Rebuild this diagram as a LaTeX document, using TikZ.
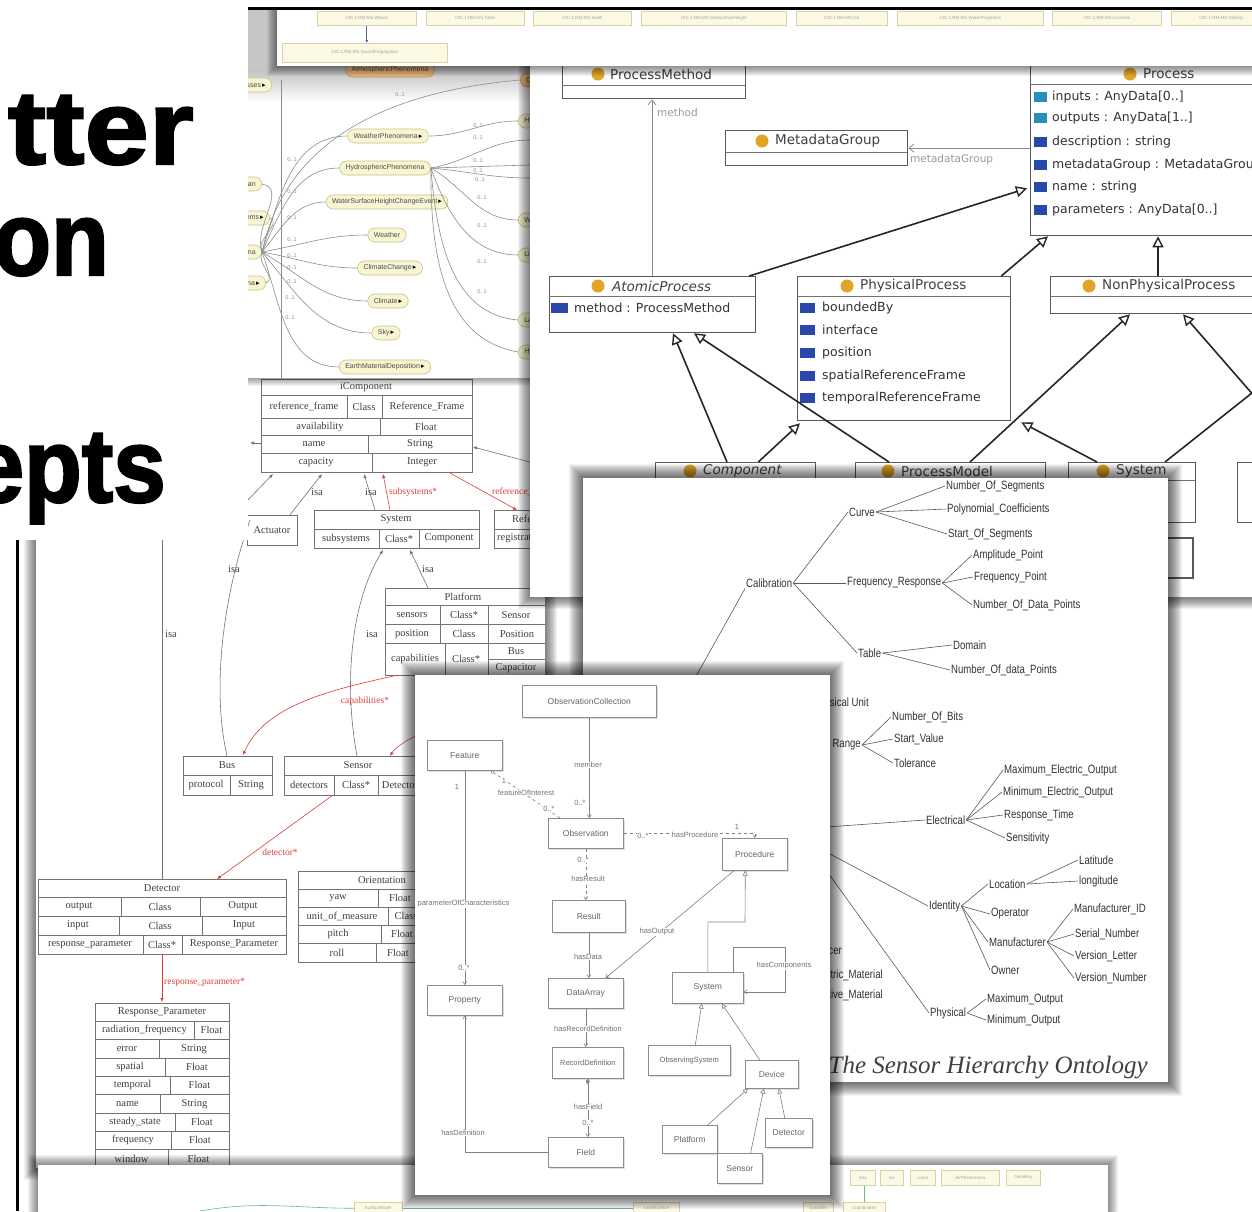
\documentclass[tikz,border=0pt]{standalone}
\usepackage{fontspec}
\setmainfont{Liberation Serif}
\setsansfont{Liberation Sans}
\newfontfamily\titlefont{Liberation Sans}[FakeStretch=1.1,BoldFeatures={FakeBold=2}]
\newfontfamily\titlefontb{Liberation Sans}[FakeStretch=0.9,BoldFeatures={FakeBold=2}]
\newfontfamily\narrowfont{Liberation Sans}[FakeStretch=0.8]
\newfontfamily\umlfont{DejaVu Sans}
\usetikzlibrary{arrows.meta,calc,shapes.geometric,shadows}
\definecolor{gold}{HTML}{E0A526}
\definecolor{teal2}{HTML}{2A8FB8}
\definecolor{blue2}{HTML}{2A48A8}
\definecolor{ellfill}{HTML}{F8F5D2}
\definecolor{elldraw}{HTML}{C8C08A}
\definecolor{orangefill}{HTML}{E6B47A}
\definecolor{boxfill}{HTML}{FBF8E4}
\definecolor{boxdraw}{HTML}{D9D2A4}
\definecolor{redl}{HTML}{E23A3A}
\definecolor{greenl}{HTML}{6DB88A}
\newcommand\pshadow[5]{\foreach \k in {1,...,#5}{\fill[black,opacity=0.05] (#1-\k,#2-\k) rectangle (#3+\k,#4+\k);}}
\newcommand\tri{\,{\color{black}\umlfont\fontsize{7}{7}\selectfont ▸}}
\begin{document}
\begin{tikzpicture}[x=1pt,y=-1pt,
  tl/.style={draw=black!55,line width=0.6pt},
  tt/.style={font=\fontsize{10.5}{11}\selectfont,text=black!75,inner sep=0pt},
  ttr/.style={font=\fontsize{9.5}{10}\selectfont,text=redl,inner sep=0pt},
  cl/.style={draw=black!55,line width=0.6pt},
  carr/.style={cl,-{Latex[length=4pt,width=3.5pt]}},
  rarr/.style={draw=redl,line width=0.6pt,-{Latex[length=4pt,width=3.5pt]}},
  dbox/.style={draw=black!65,line width=1.3pt,fill=white,inner sep=0pt,anchor=north west},
  dsep/.style={draw=black!55,line width=1pt},
  dhead/.style={font=\umlfont\fontsize{13.5}{14}\selectfont,text=black!75,anchor=west,inner sep=0pt},
  dattr/.style={font=\umlfont\fontsize{12.5}{13}\selectfont,text=black!80,anchor=west,inner sep=0pt},
  dgen/.style={draw=black!85,line width=1.6pt,-{Triangle[open,length=11pt,width=11pt,line width=1.4pt]}},
  dassoc/.style={draw=black!45,line width=0.8pt,-{Straight Barb[length=5pt,width=8pt]}},
  dlab/.style={font=\umlfont\fontsize{10.5}{11}\selectfont,text=black!40,anchor=west,inner sep=0pt},
  etx/.style={font=\narrowfont\fontsize{12}{13}\selectfont,text=black!80,inner sep=1pt,anchor=west},
  el/.style={draw=black!65,line width=0.6pt},
  ell/.style={rectangle,rounded corners=7pt,draw=elldraw,fill=ellfill,line width=0.6pt,inner xsep=6pt,inner ysep=0pt,minimum height=14pt,font=\sffamily\fontsize{7}{8}\selectfont,text=black!70},
  bl/.style={draw=black!45,line width=0.6pt},
  bt/.style={font=\sffamily\fontsize{5.5}{6}\selectfont,text=black!45,inner sep=0pt},
  fbox/.style={draw=black!45,line width=0.6pt,fill=white,anchor=north west,inner sep=0pt,font=\sffamily\fontsize{8.5}{9}\selectfont,text=black!60,drop shadow={opacity=0.25,shadow xshift=1.5pt,shadow yshift=-1.5pt}},
  fl/.style={draw=black!50,line width=0.6pt},
  fa/.style={fl,-{Straight Barb[length=3pt,width=4pt]}},
  fg/.style={fl,-{Triangle[open,length=5pt,width=5pt]}},
  ft/.style={font=\sffamily\fontsize{7.5}{8}\selectfont,text=black!55,inner sep=0.5pt,fill=white},
  ybn/.style={draw=boxdraw,fill=boxfill,line width=0.5pt,anchor=north west,inner sep=0pt,font=\sffamily\fontsize{4.5}{5}\selectfont,text=black!35},
  title/.style={font=\titlefont\bfseries\fontsize{105}{105}\selectfont,anchor=base east,inner sep=0pt,text=black},
  titleb/.style={font=\titlefontb\bfseries\fontsize{105}{105}\selectfont,anchor=base east,inner sep=0pt,text=black},
]
\useasboundingbox (0,0) rectangle (1252,1211);
\fill[white] (0,0) rectangle (1252,1211);

% left vertical bar
\draw[black,line width=3pt] (17,540) -- (17,1211);

% ================= Panel C : UML class tables =================
\pshadow{36}{375}{545}{1168}{12}
\fill[white] (36,375) rectangle (545,1168);
\begin{scope}
\clip (36,375) rectangle (545,1168);
% iComponent
\draw[tl] (261,379) rectangle (472,472);
\draw[tl] (261,395)--(472,395) (261,418)--(472,418) (261,435)--(472,435) (261,453)--(472,453);
\draw[tl] (347,395)--(347,418) (382,395)--(382,418) (380,418)--(380,435) (368,435)--(368,453) (372,453)--(372,472);
\node[tt] (ic) at (366,387) {iComponent};
\node[tt] (ic1) at (304,406.5) {reference\_frame};
\node[tt] (ic2) at (364,406.5) {Class};
\node[tt] (ic3) at (427,406.5) {Reference\_Frame};
\node[tt] (ic4) at (320,426.5) {availability};
\node[tt] (ic5) at (426,426.5) {Float};
\node[tt] (ic6) at (314,444) {name};
\node[tt] (ic7) at (420,444) {String};
\node[tt] (ic8) at (316,462.5) {capacity};
\node[tt] (ic9) at (422,462.5) {Integer};
% Actuator
\node[tt,draw=black!55,line width=0.6pt,minimum width=50pt,minimum height=30pt] (act) at (272,530) {Actuator};
% System
\draw[tl] (314,510) rectangle (479,548) (314,529)--(479,529) (379,529)--(379,548) (419,529)--(419,548);
\node[tt] (sy) at (396,519.5) {System};
\node[tt] (sy1) at (346,538.5) {subsystems};
\node[tt] (sy2) at (399,538.5) {Class*};
\node[tt] (sy3) at (449,538.5) {Component};
% Reference frame (cut)
\draw[tl] (494,510) rectangle (580,548) (494,529)--(580,529);
\node[tt,anchor=west] (rf) at (512,519.5) {Reference\_Frame};
\node[tt,anchor=west] (rf1) at (497,538.5) {registration};
% Platform
\draw[tl] (385,588) rectangle (560,675) (385,605)--(560,605) (385,624)--(560,624) (385,643)--(560,643) (440,605)--(440,643) (488,605)--(488,675) (445,643)--(445,675) (488,659)--(560,659);
\node[tt] (pl) at (463,596.5) {Platform};
\node[tt] (pl1) at (412,615) {sensors};
\node[tt] (pl2) at (464,615) {Class*};
\node[tt] (pl3) at (516,615) {Sensor};
\node[tt] (pl4) at (412,634) {position};
\node[tt] (pl5) at (464,634) {Class};
\node[tt] (pl6) at (517,634) {Position};
\node[tt] (pl7) at (415,659) {capabilities};
\node[tt] (pl8) at (466,659) {Class*};
\node[tt] (pl9) at (516,651) {Bus};
\node[tt] (pl10) at (516,668) {Capacitor};
% Bus
\draw[tl] (183,756) rectangle (272,795) (183,775)--(272,775) (230,775)--(230,795);
\node[tt] (bu) at (227,765.5) {Bus};
\node[tt] (bu1) at (206,785) {protocol};
\node[tt] (bu2) at (251,785) {String};
% Sensor
\draw[tl] (284,756) rectangle (440,795) (284,775)--(440,775) (334,775)--(334,795) (378,775)--(378,795);
\node[tt] (se) at (358,765.5) {Sensor};
\node[tt] (se1) at (309,785) {detectors};
\node[tt] (se2) at (356,785) {Class*};
\node[tt] (se3) at (400,785) {Detector};
% Detector
\draw[tl] (38,879) rectangle (286,954) (38,897)--(286,897) (38,916)--(286,916) (38,935)--(286,935)
  (121,897)--(121,916) (200,897)--(200,916) (119,916)--(119,935) (202,916)--(202,935) (143,935)--(143,954) (182,935)--(182,954);
\node[tt] (de) at (162,888) {Detector};
\node[tt] (de1) at (79,906.5) {output};
\node[tt] (de2) at (160,906.5) {Class};
\node[tt] (de3) at (243,906.5) {Output};
\node[tt] (de4) at (78,925.5) {input};
\node[tt] (de5) at (160,925.5) {Class};
\node[tt] (de6) at (244,925.5) {Input};
\node[tt] (de7) at (90,944.5) {response\_parameter};
\node[tt] (de8) at (162,944.5) {Class*};
\node[tt] (de9) at (234,944.5) {Response\_Parameter};
% Orientation
\draw[tl] (298,871) rectangle (466,962) (298,889)--(466,889) (298,907)--(466,907) (298,925)--(466,925) (298,943)--(466,943)
  (378,889)--(378,907) (388,907)--(388,925) (381,925)--(381,943) (376,943)--(376,962);
\node[tt] (or) at (382,880) {Orientation};
\node[tt] (or1) at (338,898) {yaw};
\node[tt] (or2) at (342,916) {unit\_of\_measure};
\node[tt] (or3) at (338,934) {pitch};
\node[tt] (or4) at (337,952.5) {roll};
\node[tt] (or5) at (400,898) {Float};
\node[tt] (or6) at (406,916) {Class};
\node[tt] (or7) at (402,934) {Float};
\node[tt] (or8) at (398,952.5) {Float};
% Response_Parameter
\draw[tl] (95,1003) rectangle (229,1168);
\foreach \yy in {1021,1039.5,1058,1076,1094.5,1113,1131,1149.5} \draw[tl] (95,\yy)--(229,\yy);
\draw[tl] (194,1021)--(194,1039.5) (159,1039.5)--(159,1058) (165,1058)--(165,1076) (170,1076)--(170,1094.5)
  (160,1094.5)--(160,1113) (175,1113)--(175,1131) (171,1131)--(171,1149.5) (168,1149.5)--(168,1168);
\node[tt] (rp) at (162,1012) {Response\_Parameter};
\node[tt] (rp1) at (144.5,1030) {radiation\_frequency};
\node[tt] (rp2) at (211.5,1030) {Float};
\node[tt] (rp3) at (127,1049) {error};
\node[tt] (rp4) at (194,1049) {String};
\node[tt] (rp5) at (130,1067) {spatial};
\node[tt] (rp6) at (197,1067) {Float};
\node[tt] (rp7) at (132.5,1085) {temporal};
\node[tt] (rp8) at (199.5,1085) {Float};
\node[tt] (rp9) at (127.5,1104) {name};
\node[tt] (rp10) at (194.5,1104) {String};
\node[tt] (rp11) at (135,1122) {steady\_state};
\node[tt] (rp12) at (202,1122) {Float};
\node[tt] (rp13) at (133,1140) {frequency};
\node[tt] (rp14) at (200,1140) {Float};
\node[tt] (rp15) at (131.5,1159) {window};
\node[tt] (rp16) at (198.5,1159) {Float};
% connectors
\draw[carr] (245,503) -- (273,474);
\draw[carr] ($(act.north)+(18,0)$) -- (322,474);
\node[tt] (isa1) at (317,492) {isa};
\draw[carr] (375,510) -- (364,474);
\node[tt] (isa2) at (371,492) {isa};
\draw[rarr] (390,510) -- (383,474);
\node[ttr,anchor=west] (subl) at (389,492) {subsystems*};
\draw[rarr] (450,473) -- (517,510);
\node[ttr,anchor=west] (rfl) at (492,492) {reference\_frame*};
\draw[carr] (545,466) -- (473,447);
\draw[carr] (261,443) -- (250,443);
\draw[cl] (227,756) .. controls (212,690) and (222,600) .. (250,520);
\node[tt] (isa3) at (234,569) {isa};
\draw[cl] (162,540) -- (162,879);
\node[tt,anchor=west] (isa4) at (165,634) {isa};
\draw[carr] (357,756) .. controls (343,680) and (352,600) .. (383,550);
\node[tt] (isa5) at (372,634) {isa};
\draw[carr] (428,588) -- (410,550);
\node[tt] (isa6) at (428,569) {isa};
\draw[rarr] (398,675) .. controls (330,690) and (265,705) .. (243,755);
\node[ttr] (capl) at (365,701) {capabilities*};
\draw[rarr] (425,732) .. controls (405,740) and (395,748) .. (390,756);
\draw[rarr] (333,795) -- (217,879);
\node[ttr] (detl) at (280,852) {detector*};
\draw[rarr] (162,954) -- (162,1002);
\node[ttr,anchor=west] (rpl) at (164,982) {response\_parameter*};
\end{scope}

% ================= Panel B : ontology graph =================
\pshadow{248}{65}{530}{378}{8}
\fill[white] (248,65) rectangle (530,378);
\begin{scope}
\clip (248,65) rectangle (530,378);
\shade[top color=gray!55,bottom color=white] (248,65) rectangle (530,102);
\draw[bl] (281,80) -- (281,378);
\node[ell,fill=orangefill,draw=orangefill!80!black] (o1) at (390,70) {AtmosphericPhenomena};
\node[ell,fill=orangefill,draw=orangefill!80!black,anchor=west] (o2) at (520,80) {Ocean};
\node[ell,anchor=east] (l1) at (272,85) {Processes\tri};
\node[ell,anchor=east] (l2) at (262,184) {Ocean};
\node[ell,anchor=east] (l3) at (270,218) {Ecosystems\tri};
\node[ell,anchor=east] (l4) at (262,252) {Phenomena};
\node[ell,anchor=east] (l5) at (266,283) {NaturalPhenomena\tri};
\node[ell] (e1) at (388,136) {WeatherPhenomena\tri};
\node[ell] (e2) at (385,168) {HydrosphericPhenomena};
\node[ell] (e3) at (387,202) {WaterSurfaceHeightChangeEvent\tri};
\node[ell] (e4) at (387,235) {Weather};
\node[ell] (e5) at (390,268) {ClimateChange\tri};
\node[ell] (e6) at (388,301) {Climate\tri};
\node[ell] (e7) at (386,333) {Sky\tri};
\node[ell] (e8) at (385,367) {EarthMaterialDeposition\tri};
\node[ell,anchor=west] (r1) at (518,121) {Hydrosphere};
\node[ell,anchor=west] (r2) at (518,220) {Water};
\node[ell,anchor=west] (r3) at (518,255) {Liquid};
\node[ell,anchor=west] (r4) at (518,320) {Land};
\node[ell,anchor=west] (r5) at (518,352) {Hydrology};
\draw[bl] (l4.east) to[out=78,in=185] (o2.west);
\draw[bl] (l4.east) to[out=72,in=180] (e1.west);
\draw[bl] (l4.east) to[out=65,in=180] (e2.west);
\draw[bl] (l4.east) to[out=50,in=180] (e3.west);
\draw[bl] (l4.east) to[out=10,in=180] (e4.west);
\draw[bl] (l4.east) to[out=-10,in=180] (e5.west);
\draw[bl] (l4.east) to[out=-30,in=180] (e6.west);
\draw[bl] (l4.east) to[out=-50,in=180] (e7.west);
\draw[bl] (l4.east) to[out=-70,in=180] (e8.west);
\draw[bl] (l2.east) to[out=-10,in=110] (l4.east);
\draw[bl] (l3.east) to[out=-20,in=120] (l4.east);
\draw[bl] (l5.east) to[out=20,in=-120] (l4.east);
\draw[bl] (e1.east) to[out=0,in=180] (r1.west);
\draw[bl] (e2.east) to[out=10,in=180] (530,140);
\draw[bl] (e2.east) -- (530,165);
\draw[bl] (e2.east) to[out=-5,in=180] (530,178);
\draw[bl] (e2.east) to[out=-30,in=180] (r2.west);
\draw[bl] (e2.east) to[out=-70,in=180] (r3.west);
\draw[bl] (e2.east) to[out=-85,in=175] (r4.west);
\draw[bl] (e2.east) to[out=-90,in=170] (r5.west);
\node[bt] (b1) at (400,95) {0..1};
\node[bt] (b2) at (478,126) {0..1};
\node[bt] (b3) at (478,138) {0..1};
\node[bt] (b4) at (478,161) {0..1};
\node[bt] (b5) at (478,171) {0..1};
\node[bt] (b6) at (480,180) {0..1};
\node[bt] (b7) at (482,198) {0..1};
\node[bt] (b8) at (482,226) {0..1};
\node[bt] (b9) at (482,262) {0..1};
\node[bt] (b10) at (482,292) {0..1};
\node[bt] (b11) at (292,160) {0..1};
\node[bt] (b12) at (292,192) {0..1};
\node[bt] (b13) at (292,218) {0..1};
\node[bt] (b14) at (292,240) {0..1};
\node[bt] (b15) at (292,256) {0..1};
\node[bt] (b16) at (292,268) {0..1};
\node[bt] (b17) at (292,282) {0..1};
\node[bt] (b18) at (290,298) {0..1};
\node[bt] (b19) at (290,318) {0..1};
\end{scope}

% ================= Panel D : Process UML =================
\pshadow{530}{65}{1262}{597}{12}
\fill[white] (530,65) rectangle (1262,597);
\begin{scope}
\clip (530,65) rectangle (1262,597);
\node[dbox,minimum width=183pt,minimum height=38pt] (pm) at (562,60) {};
\node[dbox,minimum width=182pt,minimum height=35pt] (mdg) at (725,130) {};
\node[dbox,minimum width=232pt,minimum height=175pt] (proc) at (1030,60) {};
\node[dbox,minimum width=206pt,minimum height=56pt] (atomic) at (549,276) {};
\node[dbox,minimum width=213pt,minimum height=144pt] (phys) at (797,276) {};
\node[dbox,minimum width=212pt,minimum height=37pt] (nonphys) at (1050,276) {};
\node[dbox,minimum width=160pt,minimum height=60pt] (comp) at (655,462) {};
\node[dbox,minimum width=190pt,minimum height=60pt] (pmod) at (855,462) {};
\node[dbox,minimum width=127pt,minimum height=60pt] (sysd) at (1068,462) {};
\node[dbox,minimum width=30pt,minimum height=60pt] (othd) at (1237,462) {};
\draw[black!65,line width=1.3pt] (1100,538) rectangle (1193,578);
\draw[dsep] (562,85)--(745,85) (725,152)--(907,152) (1030,84)--(1262,84) (549,296)--(755,296)
  (797,296)--(1010,296) (1050,296)--(1262,296) (655,480)--(815,480) (855,480)--(1045,480) (1068,480)--(1195,480);
\foreach \cx/\cy in {598/74,762/141,1130/74,598/286,847/286,1089/286,690/471,888/471,1103/471}
  \fill[gold] (\cx,\cy) circle (6.5);
\node[dhead] (pmh) at (610,74) {ProcessMethod};
\node[dhead] (mdgh) at (775,141) {MetadataGroup};
\node[dhead] (proch) at (1143,74) {Process};
\node[dhead] (atomich) at (612,286) {\itshape AtomicProcess};
\node[dhead] (physh) at (860,286) {PhysicalProcess};
\node[dhead] (nonphysh) at (1102,286) {NonPhysicalProcess};
\node[dhead] (comph) at (703,471) {\itshape Component};
\node[dhead] (pmodh) at (901,471) {ProcessModel};
\node[dhead] (sysdh) at (1116,471) {System};
% Process attributes
\fill[teal2] (1034,92) rectangle (1047,102);
\fill[teal2] (1034,113) rectangle (1047,123);
\fill[blue2] (1034,137) rectangle (1047,147);
\fill[blue2] (1034,160) rectangle (1047,170);
\fill[blue2] (1034,182) rectangle (1047,192);
\fill[blue2] (1034,205) rectangle (1047,215);
\node[dattr] (pa1) at (1052,97) {inputs : AnyData[0..]};
\node[dattr] (pa2) at (1052,118) {outputs : AnyData[1..]};
\node[dattr] (pa3) at (1052,142) {description : string};
\node[dattr] (pa4) at (1052,165) {metadataGroup : MetadataGroup};
\node[dattr] (pa5) at (1052,187) {name : string};
\node[dattr] (pa6) at (1052,210) {parameters : AnyData[0..]};
% AtomicProcess attribute
\fill[blue2] (551,303) rectangle (568,313);
\node[dattr] (aa1) at (574,308) {method : ProcessMethod};
% PhysicalProcess attributes
\fill[blue2] (800,303) rectangle (815,313);
\fill[blue2] (800,325) rectangle (815,335);
\fill[blue2] (800,348) rectangle (815,358);
\fill[blue2] (800,371) rectangle (815,381);
\fill[blue2] (800,393) rectangle (815,403);
\node[dattr] (ppa1) at (822,308) {boundedBy};
\node[dattr] (ppa2) at (822,330) {interface};
\node[dattr] (ppa3) at (822,353) {position};
\node[dattr] (ppa4) at (822,376) {spatialReferenceFrame};
\node[dattr] (ppa5) at (822,398) {temporalReferenceFrame};
% associations
\draw[dassoc] ($(atomic.north west)+(103,0)$) -- ($(pm.south west)+(90,0)$);
\node[dlab] (mlab) at (657,113) {method};
\draw[dassoc] (proc.west) -- (proc.west -| mdg.east);
\node[dlab] (mglab) at (910,160) {metadataGroup};
% generalisations
\draw[dgen] ($(atomic.north east)+(-7,0)$) -- ($(proc.south west)+(-3,-48)$);
\draw[dgen] ($(phys.north east)+(-10,0)$) -- ($(proc.south west)+(18,0)$);
\draw[dgen] ($(nonphys.north west)+(108,0)$) -- ($(proc.south west)+(128,0)$);
\draw[dgen] ($(comp.north west)+(72,0)$) -- ($(atomic.south west)+(124,0)$);
\draw[dgen] ($(pmod.north west)+(34,0)$) -- ($(atomic.south west)+(145,0)$);
\draw[dgen] ($(comp.north east)+(-58,0)$) -- ($(phys.south west)+(3,2)$);
\draw[dgen] ($(pmod.north west)+(115,0)$) -- ($(nonphys.south west)+(80,0)$);
\draw[dgen] ($(sysd.north west)+(29,0)$) -- ($(phys.south east)+(10,1)$);
\draw[draw=black!85,line width=1.6pt] ($(sysd.north west)+(97,0)$) -- (1262,385);
\draw[dgen] (1262,405) -- ($(nonphys.south west)+(133,0)$);
\end{scope}

% ================= Panel A : top strip =================
\fill[gray!45] (248,10) rectangle (277,70);
\foreach \k in {1,...,10}{\fill[black,opacity=0.05] (277-\k,10) rectangle (1262,66+\k);}
\fill[white] (277,10) rectangle (1262,66);
\draw[black,line width=3pt] (248,8.5) -- (1262,8.5);
\node[ybn,minimum width=99pt,minimum height=14pt] (a1) at (317,11) {OIC.1.RM.MS.Waves};
\node[ybn,minimum width=98pt,minimum height=14pt] (a2) at (426,11) {OIC.1.RM.MS.Tides};
\node[ybn,minimum width=98pt,minimum height=14pt] (a3) at (533,11) {OIC.1.RM.MS.Swell};
\node[ybn,minimum width=145pt,minimum height=14pt] (a4) at (641,11) {OIC.1.RM.MS.SeaSurfaceHeight};
\node[ybn,minimum width=91pt,minimum height=14pt] (a5) at (796,11) {OIC.1.RM.MS.Ice};
\node[ybn,minimum width=146pt,minimum height=14pt] (a6) at (897,11) {OIC.1.RM.MS.WaterProperties};
\node[ybn,minimum width=109pt,minimum height=14pt] (a7) at (1052,11) {OIC.1.RM.MS.Currents};
\node[ybn,minimum width=100pt,minimum height=14pt] (a8) at (1171,11) {OIC.1.RM.MS.Salinity};
\node[ybn,minimum width=165pt,minimum height=19pt] (a9) at (282,43) {OIC.1.RM.MS.SoundPropagation};
\draw[draw=blue!30!gray,line width=0.6pt,-{Latex[length=3pt,width=3pt]}] (a1.south) -- (a1.south |- a9.north);

% ================= Title panel =================
\fill[white] (0,0) rectangle (248,540);
\node[title] (w1) at (194,164) {tter};
\node[titleb] (w2) at (109,275) {on};
\node[titleb] (w3) at (166,502) {epts};

% ================= Panel E : Sensor Hierarchy Ontology =================
\pshadow{583}{478}{1168}{1082}{14}
\fill[white] (583,478) rectangle (1168,1082);
\begin{scope}
\clip (583,478) rectangle (1168,1082);
\node[etx] (cal) at (745,583) {Calibration};
\node[etx] (curve) at (848,512) {Curve};
\node[etx] (freq) at (846,583) {Frequency\_Response};
\node[etx] (tab) at (857,653) {Table};
\node[etx] (c1) at (945,486) {Number\_Of\_Segments};
\node[etx] (c2) at (946,509) {Polynomial\_Coefficients};
\node[etx] (c3) at (947,534) {Start\_Of\_Segments};
\node[etx] (f1) at (972,555) {Amplitude\_Point};
\node[etx] (f2) at (973,577) {Frequency\_Point};
\node[etx] (f3) at (972,605) {Number\_Of\_Data\_Points};
\node[etx] (t1) at (952,645) {Domain};
\node[etx] (t2) at (950,670) {Number\_Of\_data\_Points};
\node[etx,anchor=east] (pu) at (870,703) {Physical Unit};
\node[etx,anchor=east] (rng) at (862,745) {Range};
\node[etx] (r1) at (891,717) {Number\_Of\_Bits};
\node[etx] (r2) at (893,739) {Start\_Value};
\node[etx] (r3) at (893,763) {Tolerance};
\node[etx] (elec) at (925,820) {Electrical};
\node[etx] (ee1) at (1003,770) {Maximum\_Electric\_Output};
\node[etx] (ee2) at (1002,792) {Minimum\_Electric\_Output};
\node[etx] (ee3) at (1003,815) {Response\_Time};
\node[etx] (ee4) at (1005,838) {Sensitivity};
\node[etx] (ident) at (928,906) {Identity};
\node[etx] (loc) at (988,884) {Location};
\node[etx] (op) at (990,914) {Operator};
\node[etx] (man) at (988,942) {Manufacturer};
\node[etx] (own) at (990,970) {Owner};
\node[etx] (lat) at (1078,860) {Latitude};
\node[etx] (lon) at (1078,881) {longitude};
\node[etx] (m1) at (1073,909) {Manufacturer\_ID};
\node[etx] (m2) at (1074,934) {Serial\_Number};
\node[etx] (m3) at (1074,956) {Version\_Letter};
\node[etx] (m4) at (1074,978) {Version\_Number};
\node[etx] (physn) at (929,1013) {Physical};
\node[etx] (p1) at (986,999) {Maximum\_Output};
\node[etx] (p2) at (986,1020) {Minimum\_Output};
\node[etx,anchor=east] (mat) at (843,950) {Transducer};
\node[etx,anchor=east] (mat1) at (884,975) {Piezoelectric\_Material};
\node[etx,anchor=east] (mat2) at (884,995) {Conductive\_Material};
\draw[el] (cal.south west) -- (680,705);
\draw[el] (cal.east) -- (curve.west);
\draw[el] (cal.east) -- (freq.west);
\draw[el] (cal.east) -- (tab.west);
\foreach \n in {c1,c2,c3} \draw[el] (curve.east) -- (\n.west);
\foreach \n in {f1,f2,f3} \draw[el] (freq.east) -- (\n.west);
\foreach \n in {t1,t2} \draw[el] (tab.east) -- (\n.west);
\foreach \n in {r1,r2,r3} \draw[el] (rng.east) -- (\n.west);
\draw[el] (700,836) -- (elec.west);
\foreach \n in {ee1,ee2,ee3,ee4} \draw[el] (elec.east) -- (\n.west);
\draw[el] (700,785) -- (ident.west);
\foreach \n in {loc,op,man,own} \draw[el] (ident.east) -- (\n.west);
\foreach \n in {lat,lon} \draw[el] (loc.east) -- (\n.west);
\foreach \n in {m1,m2,m3,m4} \draw[el] (man.east) -- (\n.west);
\draw[el] (700,695) -- (physn.west);
\foreach \n in {p1,p2} \draw[el] (physn.east) -- (\n.west);
\node[font=\itshape\fontsize{25}{25}\selectfont,text=black!75,anchor=base east,inner sep=0pt] (capt) at (1148,1073) {The Sensor Hierarchy Ontology};
\end{scope}

% ================= Panel G : bottom strip =================
\pshadow{38}{1165}{1108}{1225}{10}
\fill[white] (38,1165) rectangle (1108,1225);
\node[ybn,minimum width=25pt,minimum height=15pt] (g1) at (850,1170) {Sea};
\node[ybn,minimum width=23pt,minimum height=15pt] (g2) at (880,1170) {Ice};
\node[ybn,minimum width=25pt,minimum height=15pt] (g3) at (910,1170) {Land};
\node[ybn,minimum width=58pt,minimum height=15pt] (g4) at (941,1170) {AirPhenomena};
\node[ybn,minimum width=34pt,minimum height=15pt] (g5) at (1006,1170) {Geodesy};
\node[ybn,minimum width=48pt,minimum height=12pt] (g6) at (354,1202) {SurfaceWater};
\node[ybn,minimum width=46pt,minimum height=12pt] (g7) at (633,1202) {LandSurface};
\node[ybn,minimum width=30pt,minimum height=12pt] (g8) at (803,1202) {Location};
\node[ybn,minimum width=42pt,minimum height=12pt] (g9) at (843,1202) {Coordinates};
\draw[greenl,line width=0.6pt] (g1.south -| g9.north) -- (g9.north);
\draw[greenl,line width=0.6pt] (g6.west) to[out=180,in=10] (200,1211);
\draw[greenl,line width=0.6pt] (g6.east) to[out=0,in=180] (g7.west);

% ================= Panel F : Observation model =================
\pshadow{415}{675}{830}{1195}{14}
\fill[white] (415,675) rectangle (830,1195);
\begin{scope}
\clip (415,675) rectangle (830,1195);
\node[fbox,minimum width=134pt,minimum height=32pt] (oc) at (522,685) {ObservationCollection};
\node[fbox,minimum width=75pt,minimum height=30pt] (feat) at (427,740) {Feature};
\node[fbox,minimum width=75pt,minimum height=30pt] (obs) at (548,818) {Observation};
\node[fbox,minimum width=65pt,minimum height=32pt] (procf) at (722,838) {Procedure};
\node[fbox,minimum width=73pt,minimum height=32pt] (res) at (552,900) {Result};
\node[fbox,minimum width=75pt,minimum height=30pt] (prop) at (427,985) {Property};
\node[fbox,minimum width=75pt,minimum height=30pt] (da) at (548,978) {DataArray};
\node[fbox,minimum width=71pt,minimum height=31pt] (sysf) at (672,972) {System};
\node[fbox,minimum width=71pt,minimum height=31pt,font=\sffamily\fontsize{7.5}{8}\selectfont] (rd) at (552,1047) {RecordDefinition};
\node[fbox,minimum width=82pt,minimum height=30pt,font=\sffamily\fontsize{7.5}{8}\selectfont] (os) at (648,1045) {ObservingSystem};
\node[fbox,minimum width=53pt,minimum height=28pt] (dev) at (745,1060) {Device};
\node[fbox,minimum width=55pt,minimum height=28pt] (plat) at (662,1125) {Platform};
\node[fbox,minimum width=47pt,minimum height=29pt] (detf) at (765,1118) {Detector};
\node[fbox,minimum width=45pt,minimum height=30pt] (sen) at (717,1153) {Sensor};
\node[fbox,minimum width=75pt,minimum height=30pt] (fld) at (548,1137) {Field};
\draw[fa] (oc.south) -- (oc.south |- obs.north);
\node[ft] (fl1) at (588,765) {member};
\node[ft] (fl2) at (580,803) {0..*};
\draw[fa,dashed] ($(obs.north west)+(12,0)$) -- ($(feat.south east)+(-12,0)$);
\node[ft] (fl3) at (504,781) {1};
\node[ft] (fl4) at (526,793) {featureOfInterest};
\node[ft] (fl5) at (549,809) {0..*};
\draw[fa] (feat.south) -- (prop.north);
\node[ft] (fl6) at (457,787) {1};
\node[ft] (fl7) at (464,968) {0..*};
\node[ft,anchor=east] (fl8) at (510,904) {parameterOfCharacteristics};
\draw[fa,dashed] (obs.east) -- (obs.east -| procf.north) -- (procf.north);
\node[ft] (fl9) at (643,836) {0..*};
\node[ft] (fl10) at (695,835) {hasProcedure};
\node[ft] (fl11) at (737,827) {1};
\draw[fa,dashed] (obs.south) -- (obs.south |- res.north);
\node[ft] (fl12) at (583,860) {0..*};
\node[ft] (fl13) at (588,879) {hasResult};
\draw[fa] (res.south) -- (res.south |- da.north);
\node[ft] (fl14) at (588,957) {hasData};
\draw[fa] ($(procf.south west)+(12,0)$) -- ($(da.north east)+(-18,0)$);
\node[ft] (fl15) at (657,932) {hasOutput};
\draw[fg] (sysf.north) |- (745,922) -- ($(procf.south)+(-9.5,0)$);
\draw[fa] ($(sysf.north east)+(-10,0)$) |- (785,947) |- ($(sysf.east)+(0,4)$);
\node[ft] (fl16) at (784,966) {hasComponents};
\draw[fg] ($(os.north)+(6,0)$) -- ($(sysf.south)+(-6,0)$);
\draw[fg] ($(dev.north)+(-12,0)$) -- ($(sysf.south)+(14,0)$);
\draw[fg] ($(plat.north east)+(-10,0)$) -- ($(dev.south west)+(3,0)$);
\draw[fg] ($(sen.north east)+(-12,0)$) -- ($(dev.south)+(-8,0)$);
\draw[fg] ($(detf.north)+(-4,0)$) -- ($(dev.south)+(7,0)$);
\draw[fa] (da.south) -- (da.south |- rd.north);
\node[ft] (fl17) at (588,1029) {hasRecordDefinition};
\draw[fl,{Diamond[length=6pt,width=4pt]}-{Straight Barb[length=3pt,width=4pt]}] (rd.south) -- (rd.south |- fld.north);
\node[ft] (fl18) at (588,1107) {hasField};
\node[ft] (fl19) at (588,1123) {0..*};
\draw[fa] (fld.west) -| (prop.south);
\node[ft] (fl20) at (463,1133) {hasDefinition};
\end{scope}
\end{tikzpicture}
\end{document}
